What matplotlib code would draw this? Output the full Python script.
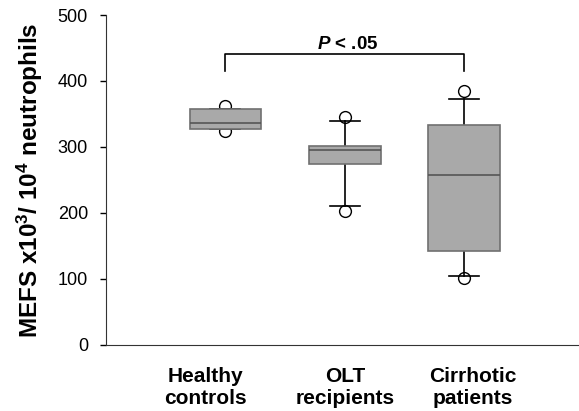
"""
MEFS per neutrophils box plot, three groups
"""

import numpy as np
import matplotlib.pyplot as plt

plt.rcParams['font.family'] = ['Liberation Sans', 'DejaVu Sans']
plt.rcParams['mathtext.fontset'] = 'custom'
plt.rcParams['mathtext.bf'] = 'Liberation Sans:bold'
plt.rcParams['mathtext.it'] = 'Liberation Sans:italic:bold'
plt.rcParams['mathtext.rm'] = 'Liberation Sans:bold'

groups = ['Healthy\ncontrols', 'OLT\nrecipients', 'Cirrhotic\npatients']
q1 = [327, 274, 142]
med = [337, 296, 258]
q3 = [358, 302, 333]
whislo = [327, 210, 105]
whishi = [358, 340, 373]
fliers = [[362, 324], [345, 203], [385, 102]]

stats = []
for i in range(len(groups)):
    stats.append(dict(med=med[i], q1=q1[i], q3=q3[i], whislo=whislo[i],
                      whishi=whishi[i], fliers=fliers[i]))

fig = plt.figure(figsize=(5.79, 4.11), dpi=100)
ax = fig.add_axes([0.183, 0.161, 0.817, 0.8025])

bp = ax.bxp(stats, positions=[1, 2, 3], widths=0.6, patch_artist=True,
            boxprops=dict(facecolor='#a9a9a9', edgecolor='#707070', linewidth=1.2, zorder=4),
            medianprops=dict(color='#555555', linewidth=1.2, zorder=5),
            whiskerprops=dict(color='black', linewidth=1.2),
            capprops=dict(color='black', linewidth=1.2),
            capwidths=0.25,
            flierprops=dict(marker='o', markerfacecolor='none', markeredgecolor='black',
                            markersize=8.5, markeredgewidth=1.0, zorder=3))

ax.set_xlim(0, 3.96)
ax.set_ylim(0, 500)
ax.set_yticks([0, 100, 200, 300, 400, 500])
# labels in the original sit a bit off the box centres
ax.set_xticks([0.83, 2.0, 3.07])
ax.set_xticklabels(groups, fontweight='bold')
ax.tick_params(axis='y', labelsize=13, length=4, width=1, direction='out', pad=9)
ax.tick_params(axis='x', length=0, labelsize=15, pad=16)

ax.spines['top'].set_visible(False)
ax.spines['right'].set_visible(False)
ax.spines['left'].set_color('#333333')
ax.spines['bottom'].set_color('#333333')

ax.set_ylabel(r'MEFS x10$^{\bf 3}$/ 10$^{\bf 4}$ neutrophils', fontsize=17.5,
              fontweight='bold', labelpad=9)

# significance bracket
ax.plot([1, 1, 3, 3], [415, 441, 441, 415], color='black', linewidth=1.2, clip_on=False)
ax.text(2.02, 443, r'$\it{P}$ < .05', ha='center', va='bottom', fontsize=13.5, fontweight='bold')

fig.savefig('out.png', dpi=100)
